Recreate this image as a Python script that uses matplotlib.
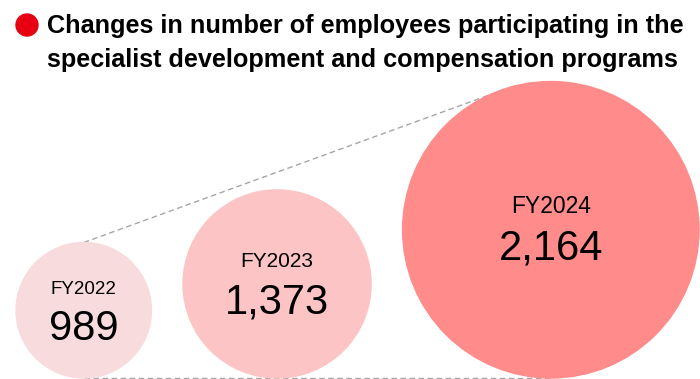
import numpy as np
import matplotlib.pyplot as plt
from matplotlib.patches import Circle

plt.rcParams['font.family'] = ['Liberation Sans', 'DejaVu Sans']

# data
years = ['FY2022', 'FY2023', 'FY2024']
employees = [989, 1373, 2164]

title_lines = ['Changes in number of employees participating in the',
               'specialist development and compensation programs']

# style / layout (pixel units, y downward)
fills = ['#f8dcdd', '#fcc4c5', '#ff8b8b']
label_sizes = [13.5, 15, 16.5]
number_size = 30
px_per_emp = 0.0685
gap = 31.5
left_edge = 16
base_y = 378

fig = plt.figure(figsize=(7.0, 3.79), dpi=100)
ax = fig.add_axes([0, 0, 1, 1])
ax.set_xlim(0, 700)
ax.set_ylim(379, 0)
ax.axis('off')

# title with red bullet
ax.add_patch(Circle((27, 25), 11, color='#e60012', zorder=3))
ax.text(47, 33, title_lines[0], fontsize=18.2, fontweight='bold', va='baseline', ha='left')
ax.text(47, 67, title_lines[1], fontsize=18.2, fontweight='bold', va='baseline', ha='left')

# circles sized by value, placed side by side on a common baseline
radii = [v * px_per_emp for v in employees]
centers = []
x = left_edge
for r in radii:
    centers.append((x + r, base_y - r))
    x += 2 * r + gap

for (cx, cy), r, col, yr, val, ls in zip(centers, radii, fills, years, employees, label_sizes):
    ax.add_patch(Circle((cx, cy), r, color=col, zorder=2))
    ax.text(cx, cy - 16.5, yr, fontsize=ls, ha='center', va='baseline', zorder=4)
    ax.text(cx, cy + 30, f'{val:,}', fontsize=number_size, ha='center', va='baseline', zorder=4)

# dashed guide lines
dash = dict(color='#a6a6a6', lw=1, ls=(0, (4, 2.5)), zorder=1)
(x0, y0), r0 = centers[0], radii[0]
(x2, y2), r2 = centers[-1], radii[-1]
ang = np.radians(15)
ax.plot([x0, x2 - r2 * np.sin(ang)], [y0 - r0, y2 - r2 * np.cos(ang)], **dash)
ax.plot([x0, x2], [base_y, base_y], **dash)

fig.savefig('out.png', dpi=100)
